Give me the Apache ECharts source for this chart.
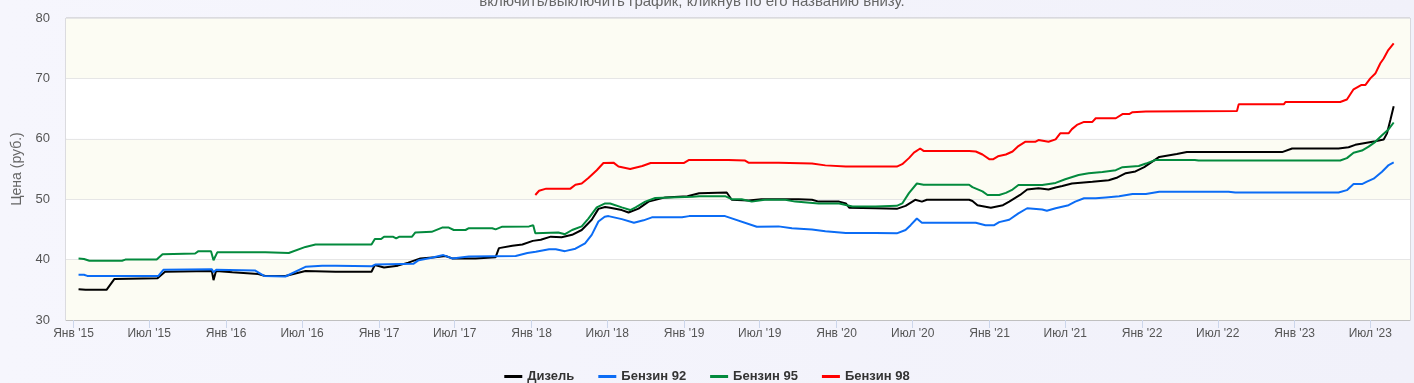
<!DOCTYPE html>
<html>
<head>
<meta charset="utf-8">
<script src="https://cdn.jsdelivr.net/npm/echarts@6/dist/echarts.min.js"></script>
<style>
html,body{margin:0;padding:0;}
body{width:1414px;height:383px;overflow:hidden;background:linear-gradient(90deg,#f6f6fd 0%,#f1f1fa 100%);}
#c{width:1414px;height:383px;}
</style>
</head>
<body>
<div id="c"></div>
<script>
const subtitleText = 'включить/выключить график, кликнув по его названию внизу.';
const yAxisTitle = 'Цена (руб.)';
const seriesNames = ['Дизель', 'Бензин 92', 'Бензин 95', 'Бензин 98'];
const tickDates = ['2015-01-01','2015-07-01','2016-01-01','2016-07-01','2017-01-01','2017-07-01','2018-01-01','2018-07-01','2019-01-01','2019-07-01','2020-01-01','2020-07-01','2021-01-01','2021-07-01','2022-01-01','2022-07-01','2023-01-01','2023-07-01'];
const tickLabels = ["Янв '15","Июл '15","Янв '16","Июл '16","Янв '17","Июл '17","Янв '18","Июл '18","Янв '19","Июл '19","Янв '20","Июл '20","Янв '21","Июл '21","Янв '22","Июл '22","Янв '23","Июл '23"];

const dieselDates = ['2015-01-13','2015-01-30','2015-03-21','2015-04-09','2015-07-21','2015-08-08','2015-11-28','2015-12-02','2015-12-08','2016-01-16','2016-03-18','2016-04-04','2016-05-22','2016-07-09','2016-09-19','2016-12-14','2016-12-22','2017-01-13','2017-02-15','2017-03-12','2017-04-10','2017-05-15','2017-06-09','2017-06-25','2017-08-20','2017-10-07','2017-10-15','2017-11-16','2017-12-10','2018-01-04','2018-01-23','2018-02-16','2018-03-14','2018-04-08','2018-05-01','2018-05-25','2018-06-10','2018-06-26','2018-07-08','2018-08-05','2018-08-21','2018-09-14','2018-10-08','2018-11-17','2019-01-09','2019-02-06','2019-04-13','2019-04-25','2019-06-04','2019-07-05','2019-10-02','2019-11-03','2019-11-19','2020-01-07','2020-01-23','2020-01-31','2020-04-03','2020-05-24','2020-06-14','2020-07-07','2020-07-23','2020-08-04','2020-11-13','2020-11-21','2020-12-03','2021-01-04','2021-02-02','2021-02-17','2021-03-15','2021-04-01','2021-04-28','2021-05-22','2021-06-08','2021-06-24','2021-07-17','2021-09-04','2021-10-13','2021-11-03','2021-11-23','2021-12-16','2022-01-06','2022-01-10','2022-02-11','2022-03-25','2022-04-18','2022-12-02','2022-12-26','2023-04-16','2023-05-10','2023-05-26','2023-06-19','2023-07-13','2023-08-02','2023-08-10','2023-08-18','2023-08-26'];
const dieselValues = [35.1,35.0,35.0,36.8,36.9,38.0,38.1,36.6,38.1,37.9,37.6,37.3,37.3,38.1,38.0,38.0,39.1,38.7,39.0,39.5,40.2,40.4,40.6,40.2,40.2,40.4,41.9,42.3,42.5,43.1,43.3,43.8,43.7,44.1,44.9,46.6,48.4,48.7,48.6,48.2,47.8,48.45,49.6,50.3,50.5,51.0,51.1,49.9,49.8,50.0,50.0,49.9,49.6,49.6,49.3,48.6,48.5,48.4,48.9,49.9,49.6,49.9,49.9,49.7,49.0,48.6,49.0,49.6,50.7,51.6,51.8,51.6,51.95,52.2,52.6,52.9,53.15,53.6,54.3,54.6,55.3,55.5,57.0,57.5,57.8,57.8,58.4,58.4,58.6,59.0,59.3,59.6,59.9,60.9,63.1,65.4];

const ai92Dates = ['2015-01-13','2015-01-26','2015-02-03','2015-07-23','2015-08-04','2015-11-28','2015-12-02','2015-12-08','2016-03-10','2016-04-01','2016-05-22','2016-07-09','2016-08-18','2016-09-19','2016-12-15','2016-12-24','2017-03-24','2017-04-06','2017-05-07','2017-06-04','2017-06-25','2017-08-04','2017-11-24','2017-12-22','2018-01-11','2018-02-12','2018-02-28','2018-03-22','2018-04-16','2018-05-09','2018-05-25','2018-06-10','2018-06-25','2018-07-04','2018-08-05','2018-09-03','2018-09-26','2018-10-16','2018-12-27','2019-01-13','2019-04-09','2019-06-24','2019-08-15','2019-09-16','2019-11-03','2019-12-05','2020-01-23','2020-04-03','2020-05-24','2020-06-14','2020-06-26','2020-07-11','2020-07-23','2020-11-29','2020-12-22','2021-01-12','2021-01-24','2021-02-17','2021-03-11','2021-04-01','2021-05-07','2021-05-18','2021-06-08','2021-07-09','2021-07-25','2021-08-15','2021-09-12','2021-10-06','2021-11-07','2021-12-09','2022-01-10','2022-02-11','2022-07-27','2022-08-12','2023-04-16','2023-05-06','2023-05-22','2023-06-11','2023-06-23','2023-07-09','2023-07-29','2023-08-14','2023-08-26'];
const ai92Values = [37.5,37.5,37.3,37.3,38.3,38.4,37.9,38.3,38.2,37.3,37.2,38.8,39.0,39.0,38.9,39.2,39.3,39.9,40.3,40.75,40.2,40.5,40.6,41.1,41.3,41.7,41.7,41.4,41.8,42.7,44.1,46.3,47.1,47.2,46.7,46.1,46.5,47.0,47.0,47.2,47.2,45.45,45.5,45.2,45.0,44.7,44.4,44.4,44.35,44.9,45.7,46.8,46.1,46.1,45.7,45.7,46.2,46.6,47.65,48.5,48.3,48.1,48.5,49.0,49.6,50.15,50.15,50.3,50.5,50.86,50.86,51.25,51.25,51.1,51.1,51.5,52.5,52.5,52.9,53.4,54.55,55.66,56.1];

const ai95Dates = ['2015-01-13','2015-01-26','2015-02-08','2015-04-27','2015-05-05','2015-07-19','2015-08-02','2015-10-19','2015-10-27','2015-11-26','2015-12-02','2015-12-11','2016-04-04','2016-05-30','2016-07-09','2016-08-02','2016-12-14','2016-12-22','2017-01-06','2017-01-13','2017-02-03','2017-02-11','2017-02-19','2017-03-21','2017-03-29','2017-05-07','2017-06-01','2017-06-17','2017-06-29','2017-07-27','2017-08-04','2017-09-29','2017-10-07','2017-10-23','2017-12-26','2018-01-05','2018-01-10','2018-03-06','2018-03-22','2018-04-08','2018-05-01','2018-05-17','2018-06-06','2018-06-26','2018-07-08','2018-08-05','2018-08-25','2018-09-07','2018-09-30','2018-10-24','2019-01-21','2019-02-06','2019-04-09','2019-04-25','2019-05-19','2019-06-12','2019-07-13','2019-08-31','2019-09-24','2019-11-19','2020-01-07','2020-02-08','2020-04-03','2020-05-24','2020-06-06','2020-06-22','2020-07-11','2020-07-27','2020-11-13','2020-11-21','2020-12-15','2020-12-27','2021-01-24','2021-02-09','2021-02-25','2021-03-11','2021-05-07','2021-06-08','2021-07-01','2021-08-02','2021-08-26','2021-09-28','2021-10-30','2021-11-15','2021-12-24','2022-01-10','2022-02-02','2022-05-07','2022-05-16','2023-04-20','2023-05-06','2023-05-22','2023-06-11','2023-06-27','2023-07-13','2023-07-29','2023-08-14','2023-08-26'];
const ai95Values = [40.2,40.1,39.8,39.8,40.0,40.0,40.9,41.0,41.4,41.4,39.9,41.2,41.2,41.1,42.1,42.5,42.5,43.4,43.4,43.8,43.8,43.5,43.8,43.8,44.5,44.6,45.3,45.3,44.9,44.9,45.2,45.2,45.0,45.45,45.5,45.7,44.35,44.5,44.2,44.9,45.5,46.8,48.65,49.3,49.3,48.65,48.2,48.65,49.6,50.2,50.4,50.5,50.5,50.0,50.0,49.6,49.9,49.9,49.6,49.3,49.3,48.8,48.8,48.9,49.3,51.0,52.6,52.4,52.4,52.0,51.3,50.7,50.7,51.05,51.6,52.35,52.35,52.7,53.3,54.0,54.3,54.5,54.8,55.3,55.5,55.9,56.5,56.5,56.4,56.4,56.8,57.7,58.05,58.7,59.5,60.6,61.6,62.7];

const ai98Dates = ['2018-01-10','2018-01-19','2018-02-05','2018-04-04','2018-04-16','2018-05-01','2018-05-17','2018-06-06','2018-06-22','2018-07-16','2018-07-28','2018-08-25','2018-09-23','2018-10-13','2019-01-01','2019-01-13','2019-04-17','2019-05-27','2019-06-04','2019-08-15','2019-11-03','2019-12-05','2020-01-23','2020-05-24','2020-06-06','2020-06-22','2020-07-04','2020-07-19','2020-07-27','2020-11-13','2020-11-29','2020-12-15','2021-01-01','2021-01-09','2021-01-21','2021-02-09','2021-02-25','2021-03-11','2021-03-27','2021-04-20','2021-04-28','2021-05-22','2021-06-08','2021-06-19','2021-07-09','2021-07-17','2021-07-29','2021-08-15','2021-09-04','2021-09-12','2021-10-30','2021-11-15','2021-12-01','2021-12-09','2022-01-10','2022-08-16','2022-08-20','2022-12-06','2022-12-10','2023-04-20','2023-05-06','2023-05-22','2023-06-09','2023-06-19','2023-07-01','2023-07-13','2023-07-25','2023-08-02','2023-08-13','2023-08-26'];
const ai98Values = [50.7,51.4,51.75,51.75,52.4,52.6,53.5,54.8,56.0,56.05,55.4,55.0,55.5,56.0,56.0,56.5,56.5,56.4,56.05,56.05,55.9,55.6,55.4,55.4,55.8,56.8,57.7,58.4,58.0,58.0,57.9,57.4,56.6,56.6,57.1,57.4,57.9,58.8,59.5,59.5,59.8,59.5,59.9,60.9,60.9,61.6,62.3,62.8,62.8,63.4,63.4,64.1,64.1,64.4,64.5,64.6,65.7,65.7,66.1,66.1,66.5,68.2,68.9,68.9,70.0,70.8,72.5,73.3,74.7,75.8];

const seriesColors = ['#000000', '#0b6cf5', '#038a3d', '#ff0000'];

function toTs(s){ const p = s.split('-').map(Number); return Date.UTC(p[0], p[1]-1, p[2]); }
function pairs(d, v){ return d.map((x,i)=>[toTs(x), v[i]]); }
const tickTimes = tickDates.map(toTs);

const chart = echarts.init(document.getElementById('c'), null, {renderer:'canvas'});
const allData = [pairs(dieselDates, dieselValues), pairs(ai92Dates, ai92Values), pairs(ai95Dates, ai95Values), pairs(ai98Dates, ai98Values)];
const FONT = '"Liberation Sans", Arial, sans-serif';

chart.setOption({
  animation: false,
  backgroundColor: 'transparent',
  textStyle: {fontFamily: FONT},
  graphic: [{
    type: 'text', x: 692, y: 9,
    style: {text: subtitleText, textAlign: 'center', textVerticalAlign: 'bottom', fill: '#666666', font: '15px ' + FONT}
  }],
  grid: {left: 66, right: 4, top: 18, bottom: 63, show: true, borderColor: '#c0c0c0', borderWidth: 1, containLabel: false},
  legend: {
    data: seriesNames, top: 365, left: 'center', itemGap: 24, itemWidth: 18, itemHeight: 3, icon: 'rect',
    textStyle: {fontSize: 13, fontWeight: 'bold', color: '#333333', fontFamily: FONT}
  },
  xAxis: {
    type: 'value', min: toTs('2014-12-14'), max: toTs('2023-10-04'),
    axisLine: {show: true, lineStyle: {color: '#c0c0c0'}},
    axisTick: {show: true, length: 8, lineStyle: {color: '#ccd6eb'}, customValues: tickTimes},
    axisLabel: {
      customValues: tickTimes, margin: 8, fontSize: 12, color: '#555555', showMinLabel: true, showMaxLabel: true,
      formatter: function(v){ for (let i=0;i<tickTimes.length;i++){ if (Math.abs(tickTimes[i]-v) < 86400000) return tickLabels[i]; } return ''; }
    },
    splitLine: {show: false}
  },
  yAxis: {
    type: 'value', min: 30, max: 80, interval: 10,
    name: yAxisTitle, nameLocation: 'middle', nameGap: 41, nameRotate: 90,
    nameTextStyle: {fontSize: 14, color: '#666666'},
    axisLine: {show: false}, axisTick: {show: false},
    axisLabel: {fontSize: 13, color: '#555555', margin: 16},
    splitLine: {show: true, lineStyle: {color: '#e6e6e6', width: 1}},
    splitArea: {show: true, areaStyle: {color: ['#fcfcf3', '#ffffff']}}
  },
  series: seriesNames.map((n, i) => ({
    name: n, type: 'line', data: allData[i], showSymbol: false, symbol: 'none',
    lineStyle: {width: 2, color: seriesColors[i]}, itemStyle: {color: seriesColors[i]},
    emphasis: {disabled: true}
  }))
});
</script>
</body>
</html>
